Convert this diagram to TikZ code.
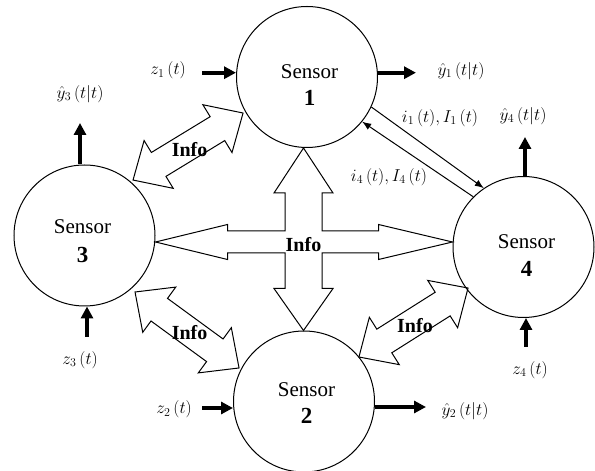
\documentclass[tikz,border=0pt]{standalone}
\usepackage{fontspec}
\setmainfont{Liberation Serif}
\usetikzlibrary{arrows.meta,calc}

% double-headed block arrow between two tip coordinates
\newcommand\blockarrow[2]{%
  \draw[block] (#1)
    -- ($(#1)!30pt!(#2)!28pt!90:(#2)$)
    -- ($(#1)!30pt!(#2)!14pt!90:(#2)$)
    -- ($(#2)!30pt!(#1)!14pt!-90:(#1)$)
    -- ($(#2)!30pt!(#1)!28pt!-90:(#1)$)
    -- (#2)
    -- ($(#2)!30pt!(#1)!28pt!90:(#1)$)
    -- ($(#2)!30pt!(#1)!14pt!90:(#1)$)
    -- ($(#1)!30pt!(#2)!14pt!-90:(#2)$)
    -- ($(#1)!30pt!(#2)!28pt!-90:(#2)$)
    -- cycle;}

% "Sensor" and its bold number inside a sensor circle
\newcommand\sensortext[5]{%
  \node[stxt] (#1-word) at ([shift={(#3,#4)}]#1.center) {Sensor};
  \node[snum] (#1-num)  at ([shift={(#3,#5)}]#1.center) {#2};}

\begin{document}
\begin{tikzpicture}[x=1pt,y=1pt,
  sensor/.style={circle, draw, line width=1pt, minimum size=141pt, inner sep=0pt},
  stxt/.style={font=\fontsize{21}{25}\selectfont, anchor=base, inner sep=0pt},
  snum/.style={font=\fontsize{23}{27}\selectfont\bfseries, anchor=base, inner sep=0pt},
  block/.style={draw, line width=1pt, line join=miter},
  infolbl/.style={font=\fontsize{20}{24}\selectfont\bfseries, inner sep=0pt},
  sig/.style={line width=4pt, -{Triangle[length=12pt,width=12pt]}},
  mlbl/.style={font=\fontsize{17.28}{20}\selectfont, inner sep=0pt},
  link/.style={line width=1pt, -{Latex[length=9pt,width=7pt]}}]
\useasboundingbox (0,0) rectangle (595,471);

% sensors
\node[sensor] (S1) at (307,394)     {};
\node[sensor] (S2) at (304,69.5)    {};
\node[sensor] (S3) at (84.5,235.5)  {};
\node[sensor] (S4) at (523.5,224)   {};
\sensortext{S1}{1}{2.5}{-1.3}{-29}
\sensortext{S2}{2}{2.5}{4.8}{-22.5}
\sensortext{S3}{3}{-2}{1.5}{-27.2}
\sensortext{S4}{4}{3}{-2}{-30}

% central four-way block arrow
\coordinate (c) at (303.5,229);
\coordinate (tT) at (c |- S1.south);
\coordinate (tB) at (c |- S2.north);
\coordinate (tL) at (c -| S3.east);
\coordinate (tR) at (c -| S4.west);
\draw[block]
  (tT) -- ([shift={(-29.5,-45)}]tT) -- ([shift={(-18.5,-45)}]tT)
  -- ([shift={(-18.5,11)}]c)
  -- ([shift={(72,11)}]tL) -- ([shift={(72,17.5)}]tL) -- (tL)
  -- ([shift={(72,-17.5)}]tL) -- ([shift={(72,-11)}]tL)
  -- ([shift={(-18.5,-11)}]c)
  -- ([shift={(-18.5,42)}]tB) -- ([shift={(-29.5,42)}]tB) -- (tB)
  -- ([shift={(29.5,42)}]tB) -- ([shift={(18.5,42)}]tB)
  -- ([shift={(18.5,-11)}]c)
  -- ([shift={(-74,-11)}]tR) -- ([shift={(-74,-17.5)}]tR) -- (tR)
  -- ([shift={(-74,17.5)}]tR) -- ([shift={(-74,11)}]tR)
  -- ([shift={(18.5,11)}]c)
  -- ([shift={(18.5,-45)}]tT) -- ([shift={(29.5,-45)}]tT) -- cycle;
\node[infolbl] (infoC) at ([yshift=-2.5]c) {Info};

% diagonal block arrows
\coordinate (ul3) at ([shift={(48.8:73.7)}]S3.center);
\coordinate (ul1) at ([shift={(209.4:73.4)}]S1.center);
\coordinate (ll3) at ([shift={(-48.2:75.8)}]S3.center);
\coordinate (ll2) at ([shift={(152.7:73.1)}]S2.center);
\coordinate (lr2) at ([shift={(39:70.7)}]S2.center);
\coordinate (lr4) at ([shift={(216.5:69)}]S4.center);
\blockarrow{ul3}{ul1}
\blockarrow{ll3}{ll2}
\blockarrow{lr2}{lr4}
\node[infolbl] (infoUL) at ([shift={(1.5,-3)}]$(ul3)!.5!(ul1)$) {Info};
\node[infolbl] (infoLL) at ([shift={(2.5,-3)}]$(ll3)!.5!(ll2)$) {Info};
\node[infolbl] (infoLR) at ([shift={(1.5,-3.5)}]$(lr2)!.5!(lr4)$) {Info};

% measurement inputs and estimate outputs
\coordinate (z1s) at (202,398.3);
\draw[sig] (z1s) -- (z1s -| S1.west);
\node[mlbl] (z1) at (168,400.5) {$z_1\left(t\right)$};

\coordinate (y1e) at (416,398.3);
\draw[sig] (y1e -| S1.east) -- (y1e);
\node[mlbl] (y1) at (461,400) {$\hat{y}_1\left(t\middle|t\right)$};

\coordinate (y3e) at (80,348);
\draw[sig] (y3e |- S3.north) -- (y3e);
\node[mlbl] (y3) at (80,377) {$\hat{y}_3\left(t\middle|t\right)$};

\coordinate (z3s) at (87,134);
\draw[sig] (z3s) -- (z3s |- S3.south);
\node[mlbl] (z3) at (80,111) {$z_3\left(t\right)$};

\coordinate (y4e) at (525,334);
\draw[sig] (y4e |- S4.north) -- (y4e);
\node[mlbl] (y4) at (523,355) {$\hat{y}_4\left(t\middle|t\right)$};

\coordinate (z4s) at (526,124);
\draw[sig] (z4s) -- (z4s |- S4.south);
\node[mlbl] (z4) at (530,101) {$z_4\left(t\right)$};

\coordinate (z2s) at (202,63);
\draw[sig] (z2s) -- (z2s -| S2.west);
\node[mlbl] (z2) at (174,61.5) {$z_2\left(t\right)$};

\coordinate (y2e) at (426,64);
\draw[sig] (y2e -| S2.east) -- (y2e);
\node[mlbl] (y2) at (465,60) {$\hat{y}_2\left(t\middle|t\right)$};

% information exchange between sensors 1 and 4
\draw[link] (S1.-25) -- (S4.124);
\draw[link] (S4.135) -- (S1.-39);
\node[mlbl] (i1) at (440,353) {$i_1\,(t),I_1\,(t)$};
\node[mlbl] (i4) at (389,294) {$i_4\,(t),I_4\,(t)$};
\end{tikzpicture}
\end{document}
